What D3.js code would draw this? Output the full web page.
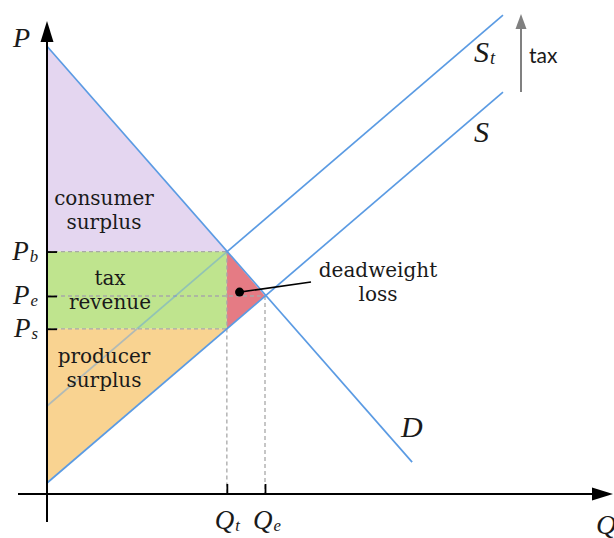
<!DOCTYPE html>
<html><head><meta charset="utf-8">
<script src="https://cdn.jsdelivr.net/npm/d3@7"></script>
<style>body{margin:0;background:#fff}svg{display:block}</style>
</head><body>
<script>
// ---- data (abstract units) ----
const demandQ = [0, 10.05];
const demandP = [20.35, 1.45];
const supplyQ = [0, 12.55];
const supplyP = [0.5, 18.27];
const taxedSupplyQ = [0, 12.55];
const taxedSupplyP = [4.0, 21.77];
const priceTicks = [7.51, 9.0, 11.02];      // Ps, Pe, Pb
const priceLabels = [["P","s"],["P","e"],["P","b"]];
const quantityTicks = [4.95, 6.0];          // Qt, Qe
const quantityLabels = [["Q","t"],["Q","e"]];
const regionNames = ["consumer surplus","tax revenue","producer surplus","deadweight loss"];
const taxAmount = 3.5;

const W = 614, H = 538;
const svg = d3.select("body").append("svg").attr("width", W).attr("height", H);

const x = d3.scaleLinear().domain([0, 6]).range([47, 265]);
const y = d3.scaleLinear().domain([0, 9]).range([494, 296]);

const [Ps, Pe, Pb] = priceTicks;
const [Qt, Qe] = quantityTicks;
const Dint = demandP[0], Sint = supplyP[0];

const colors = {consumer:"#e4d6f0", tax:"#bfe48e", producer:"#f9d391", dwl:"#e57b84", line:"#5b9be3"};
const line = d3.line().x(d => x(d[0])).y(d => y(d[1]));
const poly = pts => line(pts) + "Z";

// regions
svg.append("path").attr("d", poly([[0,Dint],[Qt,Pb],[0,Pb]])).attr("fill", colors.consumer);
svg.append("path").attr("d", poly([[0,Pb],[Qt,Pb],[Qt,Ps],[0,Ps]])).attr("fill", colors.tax);
svg.append("path").attr("d", poly([[0,Ps],[Qt,Ps],[0,Sint]])).attr("fill", colors.producer);
svg.append("path").attr("d", poly([[Qt,Pb],[Qe,Pe],[Qt,Ps]])).attr("fill", colors.dwl);

// dashed guides
const dash = svg.append("g").attr("stroke", "#a8a8a8").attr("stroke-width", 1.3).attr("stroke-dasharray", "4,3");
[[Pb,Qt],[Pe,Qe],[Ps,Qt]].forEach(([p,q]) => dash.append("line").attr("x1", x(0)).attr("x2", x(q)).attr("y1", y(p)).attr("y2", y(p)));
[[Qt,Pb],[Qe,Pe]].forEach(([q,p]) => dash.append("line").attr("x1", x(q)).attr("x2", x(q)).attr("y1", y(p)).attr("y2", y(0)));

// curves
const pts = (qs, ps) => qs.map((q,i) => [q, ps[i]]);
svg.append("path").attr("d", line(pts(demandQ, demandP))).attr("fill","none").attr("stroke", colors.line).attr("stroke-width", 1.7);
svg.append("path").attr("d", line(pts(supplyQ, supplyP))).attr("fill","none").attr("stroke", colors.line).attr("stroke-width", 1.7);
// taxed supply: the part under the surplus areas is muted
const stSlope = (taxedSupplyP[1]-taxedSupplyP[0])/(taxedSupplyQ[1]-taxedSupplyQ[0]);
svg.append("path").attr("d", line([[0,taxedSupplyP[0]],[Qt,taxedSupplyP[0]+stSlope*Qt]])).attr("fill","none").attr("stroke", colors.line).attr("stroke-opacity",0.45).attr("stroke-width", 1.7);
svg.append("path").attr("d", line([[Qt,taxedSupplyP[0]+stSlope*Qt],[taxedSupplyQ[1],taxedSupplyP[1]]])).attr("fill","none").attr("stroke", colors.line).attr("stroke-width", 1.7);

// axes with ticks (inward)
const yAxis = d3.axisLeft(y).tickValues(priceTicks).tickSizeInner(-10).tickSizeOuter(0).tickFormat("");
const gy = svg.append("g").attr("transform", `translate(${x(0)},0)`).call(yAxis);
gy.select(".domain").remove();
gy.selectAll(".tick line").attr("stroke", "#000").attr("stroke-width", 1.8);
const xAxis = d3.axisBottom(x).tickValues(quantityTicks).tickSizeInner(-10).tickSizeOuter(0).tickFormat("");
const gx = svg.append("g").attr("transform", `translate(0,${y(0)})`).call(xAxis);
gx.select(".domain").remove();
gx.selectAll(".tick line").attr("stroke", "#000").attr("stroke-width", 1.8);

svg.append("line").attr("x1", x(0)).attr("x2", x(0)).attr("y1", 522).attr("y2", 40).attr("stroke","#000").attr("stroke-width",2);
svg.append("path").attr("d", `M${x(0)},21 L${x(0)-6.5},42 L${x(0)+6.5},42Z`).attr("fill","#000");
svg.append("line").attr("x1", 18).attr("x2", 595).attr("y1", y(0)).attr("y2", y(0)).attr("stroke","#000").attr("stroke-width",2);
svg.append("path").attr("d", `M613,${y(0)} L592,${y(0)-6.5} L592,${y(0)+6.5}Z`).attr("fill","#000");

// tax arrow
svg.append("line").attr("x1", 521).attr("x2", 521).attr("y1", y(supplyP[1])).attr("y2", y(supplyP[1]+taxAmount)+12).attr("stroke","#808080").attr("stroke-width",2);
svg.append("path").attr("d", `M521,${y(supplyP[1]+taxAmount)-1} L515.5,${y(supplyP[1]+taxAmount)+14} L526.5,${y(supplyP[1]+taxAmount)+14}Z`).attr("fill","#808080");
svg.append("text").attr("x", 529).attr("y", 63).text("tax").attr("font-family","Lato, 'Open Sans', sans-serif").attr("font-size", 21).attr("fill","#1a1a1a");

// labels
const serif = "'Liberation Serif', 'Times New Roman', serif";
function sub(xx, yy, main, s, size, anchor) {
  const tx = svg.append("text").attr("x", xx).attr("y", yy).attr("font-family", serif).attr("font-style","italic")
    .attr("font-size", size).attr("fill","#1a1a1a").attr("text-anchor", anchor || "start");
  tx.append("tspan").text(main);
  if (s) tx.append("tspan").text(s).attr("font-size", size*0.62).attr("dx", 1).attr("dy", 2);
  return tx;
}
sub(13, 47, "P", null, 28);
sub(596, 534, "Q", null, 28);
priceTicks.forEach((p,i) => sub(38, y(p)+8, priceLabels[i][0], priceLabels[i][1], 27, "end"));
quantityTicks.forEach((q,i) => sub(x(q)-12, 529, quantityLabels[i][0], quantityLabels[i][1], 27));
sub(474, 62, "S", "t", 30);
sub(474, 142, "S", null, 30);
sub(401, 437, "D", null, 30);

function block(lines, cx, y0) {
  const t = svg.append("text").attr("font-family","'DejaVu Serif', serif").attr("font-size",20).attr("fill","#1a1a1a").attr("text-anchor","middle");
  lines.forEach((l,i) => t.append("tspan").attr("x", cx).attr("y", y0 + i*24).text(l));
}
block(regionNames[0].split(" "), 104, 205);
block(regionNames[1].split(" "), 110, 285);
block(regionNames[2].split(" "), 104, 363);
block(regionNames[3].split(" "), 378, 277);

// annotation pointer
const dot = [ (Qt*2+Qe)/3, (Pb+Pe+Ps)/3 ];
svg.append("line").attr("x1", x(dot[0])).attr("y1", y(dot[1])).attr("x2", 311).attr("y2", 282).attr("stroke","#000").attr("stroke-width",1.6);
svg.append("circle").attr("cx", x(dot[0])).attr("cy", y(dot[1])).attr("r", 4.5).attr("fill","#000");
</script>
</body></html>
